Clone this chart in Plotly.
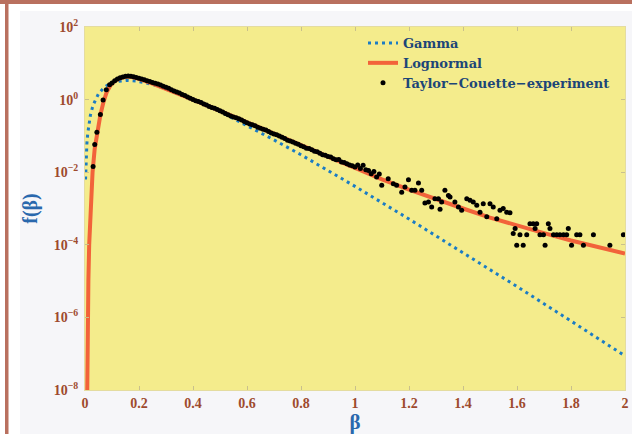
import plotly.graph_objects as go

# ---- data (y values given as log10 f) ----
gamma_beta = [0.002, 0.004, 0.007, 0.010, 0.015, 0.020, 0.030, 0.040, 0.050, 0.070,
              0.090, 0.120, 0.155, 0.190, 0.250, 0.300, 0.400, 0.500, 0.600, 0.700,
              0.800, 0.900, 1.000, 1.200, 1.400, 1.600, 1.800, 2.000]
gamma_log = [-2.20, -1.65, -1.21, -0.94, -0.64, -0.43, -0.15, 0.03, 0.16, 0.33,
             0.43, 0.50, 0.53, 0.51, 0.42, 0.30, 0.01, -0.33, -0.71, -1.11,
             -1.52, -1.95, -2.39, -3.29, -4.21, -5.15, -6.10, -7.06]

logn_beta = [0.0075, 0.0080, 0.0092, 0.0105, 0.0125, 0.0155, 0.020, 0.028, 0.036, 0.045,
             0.057, 0.068, 0.080, 0.095, 0.110, 0.130, 0.150, 0.170, 0.200, 0.250,
             0.300, 0.350, 0.400, 0.500, 0.600, 0.700, 0.800, 0.900, 1.000, 1.100,
             1.200, 1.300, 1.400, 1.500, 1.600, 1.700, 1.800, 1.900, 2.000]
logn_log = [-8.6, -8.0, -7.0, -6.0, -5.0, -4.0, -3.0, -2.0, -1.35, -0.88,
            -0.42, -0.08, 0.20, 0.40, 0.51, 0.59, 0.63, 0.63, 0.57, 0.44,
            0.30, 0.15, 0.00, -0.31, -0.63, -0.95, -1.27, -1.57, -1.88, -2.20,
            -2.48, -2.75, -3.00, -3.25, -3.47, -3.68, -3.88, -4.07, -4.24]

exp_beta = [0.030, 0.036, 0.044, 0.057, 0.067, 0.079, 0.091,
            0.10, 0.11, 0.12, 0.13, 0.14, 0.15, 0.16, 0.17, 0.18, 0.19,
            0.20, 0.21, 0.22, 0.23, 0.24, 0.25, 0.26, 0.27, 0.28, 0.29,
            0.30, 0.31, 0.32, 0.33, 0.34, 0.35, 0.36, 0.37, 0.38, 0.39,
            0.40, 0.41, 0.42, 0.43, 0.44, 0.45, 0.46, 0.47, 0.48, 0.49,
            0.50, 0.51, 0.52, 0.53, 0.54, 0.55, 0.56, 0.57, 0.58, 0.59,
            0.60, 0.61, 0.62, 0.63, 0.64, 0.65, 0.66, 0.67, 0.68, 0.69,
            0.70, 0.71, 0.72, 0.73, 0.74, 0.75, 0.76, 0.77, 0.78, 0.79,
            0.80, 0.81, 0.82, 0.83, 0.84, 0.85, 0.86, 0.87, 0.88, 0.89,
            0.90, 0.91, 0.92, 0.93, 0.94, 0.95, 0.96, 0.97, 0.98, 0.99,
            1.00, 1.01, 1.02, 1.03, 1.04, 1.05, 1.06, 1.07, 1.08, 1.09,
            1.099, 1.123, 1.142, 1.154, 1.173, 1.185, 1.198, 1.210, 1.222, 1.235,
            1.247, 1.259, 1.272, 1.284, 1.296, 1.309, 1.315, 1.321, 1.333, 1.346,
            1.352, 1.370, 1.383, 1.395, 1.414, 1.426, 1.438, 1.451, 1.463, 1.475,
            1.488, 1.500, 1.512, 1.525, 1.537, 1.549, 1.562, 1.574, 1.586, 1.593,
            1.599, 1.611, 1.623, 1.636, 1.648, 1.660, 1.667, 1.673, 1.685, 1.698,
            1.704, 1.716, 1.722, 1.735, 1.747, 1.759, 1.772, 1.784, 1.790, 1.802,
            1.821, 1.833, 1.846, 1.883, 1.944, 1.994]
exp_log = [-1.84, -1.24, -0.90, -0.41, -0.01, 0.27, 0.41,
           0.46, 0.52, 0.57, 0.60, 0.62, 0.64, 0.65, 0.64, 0.63, 0.61,
           0.59, 0.57, 0.55, 0.52, 0.50, 0.47, 0.45, 0.43, 0.40, 0.37,
           0.34, 0.31, 0.27, 0.24, 0.21, 0.18, 0.14, 0.11, 0.07, 0.04,
           0.00, -0.03, -0.05, -0.08, -0.12, -0.15, -0.19, -0.22, -0.24, -0.27,
           -0.31, -0.34, -0.38, -0.42, -0.45, -0.48, -0.50, -0.53, -0.56, -0.60,
           -0.64, -0.67, -0.69, -0.72, -0.76, -0.79, -0.82, -0.84, -0.88, -0.92,
           -0.95, -0.97, -1.00, -1.04, -1.07, -1.12, -1.14, -1.17, -1.20, -1.23,
           -1.27, -1.30, -1.34, -1.35, -1.38, -1.42, -1.44, -1.48, -1.52, -1.53,
           -1.57, -1.58, -1.63, -1.66, -1.65, -1.72, -1.73, -1.77, -1.80, -1.82,
           -1.86, -1.80, -1.90, -1.81, -1.93, -1.95, -2.04, -1.98, -2.13, -2.05,
           -2.36, -2.18, -2.32, -2.36, -2.55, -2.41, -2.21, -2.50, -2.50, -2.30,
           -2.50, -2.85, -2.82, -2.96, -2.73, -2.73, -3.02, -2.82, -2.50, -2.64,
           -2.68, -2.82, -2.96, -3.05, -2.73, -2.77, -2.82, -2.91, -3.10, -2.87,
           -3.23, -2.87, -2.96, -3.28, -3.05, -3.00, -3.10, -3.12, -3.69, -3.55,
           -4.01, -3.72, -4.01, -3.72, -3.42, -3.42, -3.55, -3.42, -3.72, -3.72,
           -4.01, -3.42, -3.55, -3.72, -3.72, -3.72, -3.72, -3.72, -3.55, -4.01,
           -3.72, -3.72, -4.01, -3.72, -4.01, -3.72]

x_ticks = [0, 0.2, 0.4, 0.6, 0.8, 1, 1.2, 1.4, 1.6, 1.8, 2]
x_ticktext = ["0", "0.2", "0.4", "0.6", "0.8", "1", "1.2", "1.4", "1.6", "1.8", "2"]
y_exps = [2, 0, -2, -4, -6, -8]

# ---- styling ----
TICK_COLOR = "#9e4a2e"
TITLE_COLOR = "#2a68ad"
LEGEND_COLOR = "#1c4678"
SERIF = "Liberation Serif, Times New Roman, serif"
W, H = 632, 434
ML, MR, MT, MB = 85, 7, 27, 44
PW, PH = W - ML - MR, H - MT - MB


def px2paper_x(px):
    return (px - ML) / PW


def px2paper_y(py):
    return (H - MB - py) / PH


fig = go.Figure()
fig.add_trace(go.Scatter(
    x=gamma_beta, y=[10 ** v for v in gamma_log], mode="lines", name="Gamma",
    line=dict(color="#1b7cc4", width=3, dash="3px,4px")))
fig.add_trace(go.Scatter(
    x=logn_beta, y=[10 ** v for v in logn_log], mode="lines", name="Lognormal",
    line=dict(color="#f2633a", width=4)))
fig.add_trace(go.Scatter(
    x=exp_beta, y=[10 ** v for v in exp_log], mode="markers",
    name="Taylor\u2212Couette\u2212experiment",
    marker=dict(color="black", size=5, line=dict(width=0))))

FRAME = "#b9705f"
shapes = [
    # white outer strips (paper itself is light grey)
    dict(type="rect", xref="paper", yref="paper", layer="below",
         x0=px2paper_x(-2), x1=px2paper_x(20), y0=px2paper_y(440), y1=px2paper_y(-2),
         fillcolor="white", line=dict(width=0)),
    dict(type="rect", xref="paper", yref="paper", layer="below",
         x0=px2paper_x(-2), x1=px2paper_x(640), y0=px2paper_y(11), y1=px2paper_y(-2),
         fillcolor="white", line=dict(width=0)),
    # brown frame (top and left)
    dict(type="rect", xref="paper", yref="paper", layer="below",
         x0=px2paper_x(-2), x1=px2paper_x(640), y0=px2paper_y(4), y1=px2paper_y(-2),
         fillcolor=FRAME, line=dict(width=0)),
    dict(type="rect", xref="paper", yref="paper", layer="below",
         x0=px2paper_x(5), x1=px2paper_x(8.5), y0=px2paper_y(440), y1=px2paper_y(0),
         fillcolor=FRAME, line=dict(width=0)),
]

fig.update_layout(
    width=W, height=H,
    margin=dict(l=ML, r=MR, t=MT, b=MB, autoexpand=False),
    paper_bgcolor="#f6f6f9",
    plot_bgcolor="#f4ec8c",
    shapes=shapes,
    showlegend=True,
    legend=dict(x=px2paper_x(363), y=px2paper_y(28), xanchor="left", yanchor="top",
                bgcolor="rgba(0,0,0,0)", borderwidth=0,
                font=dict(family="DejaVu Serif", size=13, color=LEGEND_COLOR,
                          weight="bold"),
                tracegroupgap=0, itemwidth=30),
    xaxis=dict(
        range=[0, 2], tickvals=x_ticks, ticktext=x_ticktext,
        ticks="inside", ticklen=4, tickcolor="#c9c08c",
        showline=True, linecolor="#e4dca0", linewidth=1, mirror="ticks",
        showgrid=False, zeroline=False,
        tickfont=dict(family=SERIF, size=14, color=TICK_COLOR, weight="bold"),
        title=dict(text="\u03b2", font=dict(family=SERIF, size=21, color=TITLE_COLOR,
                                            weight="bold"),
                   standoff=1),
    ),
    yaxis=dict(
        type="log", range=[-8, 2],
        tickvals=[10.0 ** e for e in y_exps],
        ticktext=["10<sup>%s</sup>" % (str(e).replace("-", "\u2212")) for e in y_exps],
        ticks="inside", ticklen=4, tickcolor="#c9c08c",
        showline=True, linecolor="#e4dca0", linewidth=1, mirror="ticks",
        showgrid=False, zeroline=False,
        tickfont=dict(family=SERIF, size=14, color=TICK_COLOR, weight="bold"),
        ticklabelstandoff=3,
        title=dict(text="f(\u03b2)", font=dict(family=SERIF, size=20, color=TITLE_COLOR,
                                               weight="bold"),
                   standoff=10),
    ),
)

fig.write_html("out.html")
